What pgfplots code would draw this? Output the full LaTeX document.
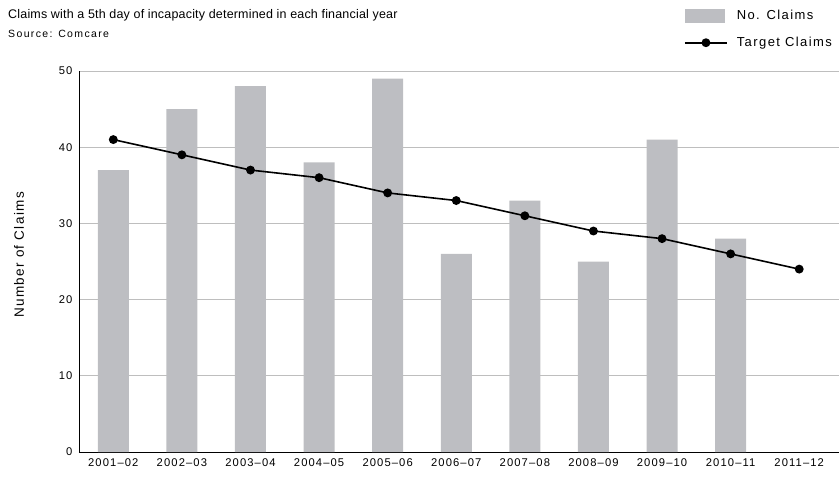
\documentclass[border=0pt]{standalone}
\usepackage{pgfplots}
\pgfplotsset{compat=1.18}
\usepackage{fontspec}
\setmainfont{Liberation Sans}
\definecolor{bargray}{RGB}{189,190,194}
\definecolor{gridgray}{RGB}{190,190,190}
\begin{document}
\begin{tikzpicture}
\useasboundingbox (0pt,0pt) rectangle (839pt,477pt);
\node[anchor=base west,font=\fontsize{12.5}{14}\selectfont\addfontfeatures{LetterSpace=1.5},inner sep=0] at (8pt,458pt) {Claims with a 5th day of incapacity determined in each financial year};
\node[anchor=base west,font=\fontsize{10.5}{12}\selectfont\addfontfeatures{LetterSpace=13},inner sep=0] at (8pt,439pt) {Source: Comcare};
\node[rotate=90,font=\fontsize{13.5}{15}\selectfont\addfontfeatures{LetterSpace=10}] at (19pt,222pt) {Number of Claims};
\begin{axis}[
  at={(79pt,25pt)}, anchor=south west,
  scale only axis, width=760pt, height=381pt,
  xmin=-0.5, xmax=10.58, ymin=0, ymax=50,
  axis x line*=bottom, axis y line*=left,
  axis line style={black, line width=0.9pt},
  xtick={0,...,10},
  xticklabels={2001--02,2002--03,2003--04,2004--05,2005--06,2006--07,2007--08,2008--09,2009--10,2010--11,2011--12},
  ytick={0,10,...,50},
  major tick length=0pt,
  ymajorgrids, grid style={gridgray, line width=0.9pt},
  tick label style={font=\fontsize{11.2}{13}\selectfont\addfontfeatures{LetterSpace=10}},
  /pgf/number format/assume math mode=true,
  xticklabel style={yshift=-3.5pt},
  yticklabel style={xshift=-3pt},
  legend style={at={(0.796,1.165)}, anchor=north west, draw=none, fill=none,
    inner sep=0pt,
    font=\fontsize{13}{15}\selectfont\addfontfeatures{LetterSpace=11}, row sep=12pt,
    legend cell align=left},
]
\addplot[ybar, bar width=31pt, fill=bargray, draw=none,
  legend image code/.code={\fill[bargray] (0pt,-7pt) rectangle (40pt,7pt);}]
  coordinates {(0,37) (1,45) (2,48) (3,38) (4,49) (5,26) (6,33) (7,25) (8,41) (9,28)};
\addlegendentry{\hspace*{7pt}No. Claims}
\addplot[black, line width=1.6pt, mark=*, mark size=3.6pt,
  legend image code/.code={\draw[black,line width=1.6pt] (0pt,0pt) -- (42pt,0pt);
    \fill[black] (21pt,0pt) circle (3.6pt);}]
  coordinates {(0,41) (1,39) (2,37) (3,36) (4,34) (5,33) (6,31) (7,29) (8,28) (9,26) (10,24)};
\addlegendentry{\hspace*{7pt}Target Claims}
\end{axis}
\end{tikzpicture}
\end{document}
